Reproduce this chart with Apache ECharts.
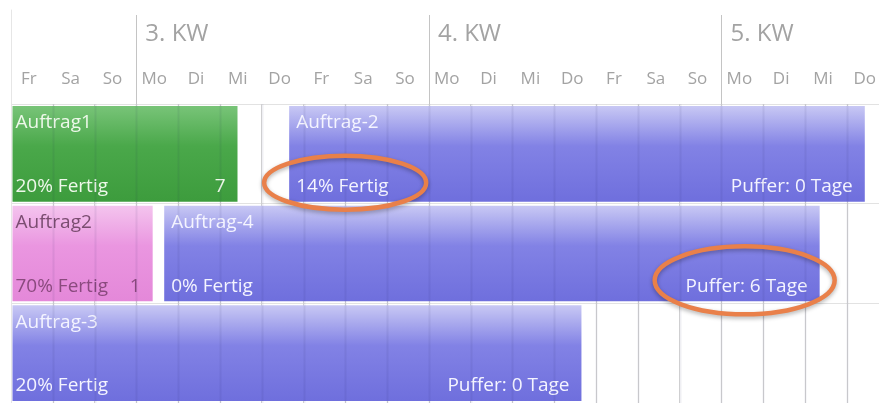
<!DOCTYPE html>
<html>
<head>
<meta charset="utf-8">
<script src="https://cdn.jsdelivr.net/npm/echarts@6/dist/echarts.min.js"></script>
<style>
  html, body { margin: 0; padding: 0; background: #ffffff; }
  #chart { width: 879px; height: 403px; }
</style>
</head>
<body>
<div id="chart"></div>
<script>
// Zeitachse in Tagen: 0 = Freitag vor der 3. KW
const tage = ['Fr','Sa','So','Mo','Di','Mi','Do','Fr','Sa','So','Mo','Di','Mi','Do','Fr','Sa','So','Mo','Di','Mi','Do'];
const wochen = ['3. KW', '4. KW', '5. KW'];
const wochenBeginn = [3, 10, 17];

// Aufträge
const zeilen = ['Zeile 1', 'Zeile 2', 'Zeile 3'];
const auftraege = ['Auftrag1', 'Auftrag-2', 'Auftrag2', 'Auftrag-4', 'Auftrag-3'];
const auftragZeile = [0, 0, 1, 1, 2];
const beginn = [0, 6.62, 0, 3.63, 0];
const ende = [5.42, 20.43, 3.39, 19.35, 13.65];
const fertig = [20, 14, 70, 0, 20];
const rechtsText = ['7', 'Puffer: 0 Tage', '1', 'Puffer: 6 Tage', 'Puffer: 0 Tage'];
const status = ['aktiv', 'geplant', 'wartend', 'geplant', 'geplant'];

// Hervorgehobene Beschriftungen
const markiertAuftrag = ['Auftrag-2', 'Auftrag-4'];
const markiertSeite = ['links', 'rechts'];

const SCHRIFT = '"Open Sans", "Noto Sans", sans-serif';
const GROESSE = 19;
const stile = {
  aktiv:   { stops: ['#78c478', '#4aa84a', '#3d9c3d'], name: '#eef8ea', text: '#eef8ea' },
  geplant: { stops: ['#c8c8f4', '#8282e5', '#6f6fdd'], name: '#f4f4ff', text: '#f4f4ff' },
  wartend: { stops: ['#f4c4ee', '#ea96e0', '#e488d9'], name: '#7a4d70', text: '#8a4a7e' }
};

// Lage eines Balkens und seiner Beschriftungen in Pixeln
function geometrie(i, api, cs) {
  const a = api.coord([beginn[i], auftragZeile[i]]);
  const b = api.coord([ende[i], auftragZeile[i]]);
  const band = api.size([0, 1])[1];
  const geschnitten = a[0] <= cs.x + 0.5;
  const x0 = Math.max(a[0], cs.x) + 1.5;
  const x1 = Math.min(b[0], cs.x + cs.width);
  const y0 = a[1] - band / 2 + 2;
  const h = band - 4;
  const pad = geschnitten ? 3 : 7;
  return {
    x0, x1, y0, h,
    linksX: x0 + pad,
    rechtsX: x1 - 12,
    obenY: y0 + 17,
    untenY: y0 + h - 15
  };
}

const chart = echarts.init(document.getElementById('chart'), null, { renderer: 'canvas' });

const XMAX = 20.77;

chart.setOption({
  animation: false,
  grid: [
    { left: 11, right: 0, top: 10, height: 94 },
    { left: 11, right: 0, top: 104, height: 302 }
  ],
  xAxis: [
    { gridIndex: 0, type: 'value', min: 0, max: XMAX, show: false },
    {
      gridIndex: 1, type: 'value', min: 0, max: XMAX, interval: 1,
      axisLabel: { show: false }, axisLine: { show: false }, axisTick: { show: false },
      splitLine: { show: true, lineStyle: { color: '#d6d6d6', width: 1 } }
    }
  ],
  yAxis: [
    {
      gridIndex: 0, type: 'category', data: ['KW', 'Tag'], inverse: true,
      axisLabel: { show: false }, axisTick: { show: false },
      axisLine: { show: true, lineStyle: { color: '#e6e6e6' } }, splitLine: { show: false }
    },
    {
      gridIndex: 1, type: 'category', data: zeilen, inverse: true,
      axisLabel: { show: false }, axisTick: { show: false },
      axisLine: { show: true, lineStyle: { color: '#e6e6e6' } },
      splitLine: { show: true, lineStyle: { color: '#e2e2e2' } }
    }
  ],
  series: [
    // Kopfzeile: Wochentage
    {
      type: 'custom', xAxisIndex: 0, yAxisIndex: 0, silent: true,
      data: tage.map((t, i) => [i, 1, t]),
      renderItem(params, api) {
        const p = api.coord([api.value(0) + 0.5, 1]);
        return {
          type: 'text',
          x: p[0] - 3, y: p[1] - 1,
          style: {
            text: tage[params.dataIndex], fill: '#a3a3a3', font: '17px ' + SCHRIFT,
            align: 'center', verticalAlign: 'middle'
          }
        };
      }
    },
    // Kopfzeile: Kalenderwochen mit Trennlinie
    {
      type: 'custom', xAxisIndex: 0, yAxisIndex: 0, silent: true,
      data: wochen.map((w, i) => [wochenBeginn[i], 0, w]),
      renderItem(params, api) {
        const cs = params.coordSys;
        const p = api.coord([api.value(0), 0]);
        const x = Math.round(p[0]) + 0.5;
        return {
          type: 'group',
          children: [
            {
              type: 'line',
              shape: { x1: x, y1: cs.y + 5, x2: x, y2: cs.y + cs.height },
              style: { stroke: '#c4c4c4', lineWidth: 1 }
            },
            {
              type: 'text',
              x: p[0] + 9, y: p[1] + 1,
              style: {
                text: wochen[params.dataIndex], fill: '#a3a3a3', font: '24px ' + SCHRIFT,
                align: 'left', verticalAlign: 'middle'
              }
            }
          ]
        };
      }
    },
    // Auftragsbalken
    {
      type: 'custom', xAxisIndex: 1, yAxisIndex: 1, silent: true, z: 2,
      data: beginn.map((b, i) => [b, ende[i], auftragZeile[i]]),
      encode: { x: [0, 1], y: 2 },
      renderItem(params, api) {
        const i = params.dataIndex;
        const g = geometrie(i, api, params.coordSys);
        const st = stile[status[i]];
        const font = GROESSE + 'px ' + SCHRIFT;
        return {
          type: 'group',
          children: [
            {
              type: 'rect',
              shape: { x: g.x0, y: g.y0, width: g.x1 - g.x0, height: g.h },
              style: {
                fill: new echarts.graphic.LinearGradient(0, 0, 0, 1, [
                  { offset: 0, color: st.stops[0] },
                  { offset: 0.42, color: st.stops[1] },
                  { offset: 1, color: st.stops[2] }
                ])
              }
            },
            {
              type: 'text', x: g.linksX, y: g.obenY, z2: 5,
              style: { text: auftraege[i], fill: st.name, font, align: 'left', verticalAlign: 'middle' }
            },
            {
              type: 'text', x: g.linksX, y: g.untenY, z2: 5,
              style: { text: fertig[i] + '% Fertig', fill: st.text, font, align: 'left', verticalAlign: 'middle' }
            },
            {
              type: 'text', x: g.rechtsX, y: g.untenY, z2: 5,
              style: { text: rechtsText[i], fill: st.text, font, align: 'right', verticalAlign: 'middle' }
            }
          ]
        };
      }
    },
    // Tageslinien, die durch die Balken schimmern
    {
      type: 'custom', xAxisIndex: 1, yAxisIndex: 1, silent: true, z: 3,
      data: tage.map((t, i) => [i + 1, 0]).slice(0, tage.length - 1),
      renderItem(params, api) {
        const cs = params.coordSys;
        const p = api.coord([api.value(0), 0]);
        const x = Math.round(p[0]) + 0.5;
        return {
          type: 'line',
          shape: { x1: x, y1: cs.y, x2: x, y2: cs.y + cs.height },
          style: { stroke: 'rgba(30,30,90,0.07)', lineWidth: 2 }
        };
      }
    },
    // Markierungen um einzelne Beschriftungen
    {
      type: 'custom', xAxisIndex: 1, yAxisIndex: 1, silent: true, z: 6,
      data: markiertAuftrag.map((a, k) => [k, 0]),
      renderItem(params, api) {
        const k = params.dataIndex;
        const i = auftraege.indexOf(markiertAuftrag[k]);
        const g = geometrie(i, api, params.coordSys);
        const links = markiertSeite[k] === 'links';
        const cx = links ? g.x0 + 56 : g.x1 - 75;
        return {
          type: 'ellipse',
          shape: {
            cx: cx,
            cy: links ? g.untenY - 4 : g.untenY - 6,
            rx: links ? 81 : 90,
            ry: links ? 27 : 34
          },
          style: {
            fill: 'none', stroke: '#e9804a', lineWidth: 4.5,
            shadowBlur: 4, shadowColor: 'rgba(0,0,0,0.3)', shadowOffsetY: 2
          }
        };
      }
    }
  ]
});
</script>
</body>
</html>
